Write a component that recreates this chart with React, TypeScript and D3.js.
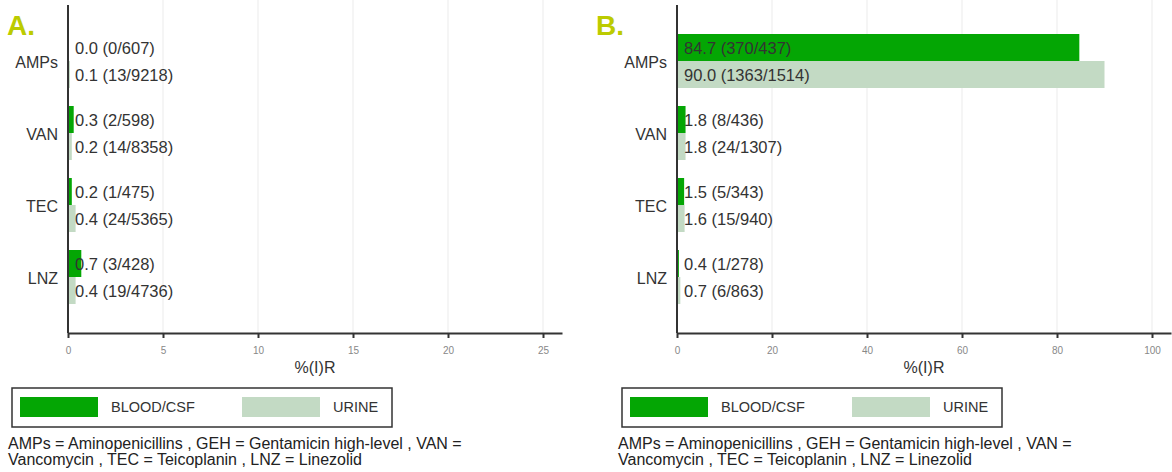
import React, { useEffect, useRef } from "react";
import * as d3 from "d3";

// antibiotic categories (same order in both panels)
const categories = ["AMPs", "VAN", "TEC", "LNZ"];

// Panel A
const bloodA = [0.0, 0.3, 0.2, 0.7];
const bloodNumA = [0, 2, 1, 3];
const bloodDenA = [607, 598, 475, 428];
const urineA = [0.1, 0.2, 0.4, 0.4];
const urineNumA = [13, 14, 24, 19];
const urineDenA = [9218, 8358, 5365, 4736];
const ticksA = [0, 5, 10, 15, 20, 25];

// Panel B
const bloodB = [84.7, 1.8, 1.5, 0.4];
const bloodNumB = [370, 8, 5, 1];
const bloodDenB = [437, 436, 343, 278];
const urineB = [90.0, 1.8, 1.6, 0.7];
const urineNumB = [1363, 24, 15, 6];
const urineDenB = [1514, 1307, 940, 863];
const ticksB = [0, 20, 40, 60, 80, 100];

const seriesNames = ["BLOOD/CSF", "URINE"];
const footnote = [
  "AMPs = Aminopenicillins , GEH = Gentamicin high-level , VAN =",
  "Vancomycin , TEC = Teicoplanin , LNZ = Linezolid",
];

const FONT = "'Liberation Sans', Arial, sans-serif";
const BLOOD = "#04a604";
const URINE = "#c3dac4";
const PANEL_LABEL = "#bccb00";

const drawPanel = (svg, opts) => {
  const { left, right, xMax, ticks, blood, urine, bNum, bDen, uNum, uDen, tag } = opts;
  const g = svg.append("g");
  const axisY = 333;

  const x = d3.scaleLinear().domain([0, xMax]).range([left, right]);
  const y = d3
    .scaleBand()
    .domain(categories)
    .range([25, 313])
    .paddingInner(0.25)
    .paddingOuter(0.125);
  const half = y.bandwidth() / 2;

  // gridlines
  g.selectAll(".grid")
    .data(ticks.filter((t) => t > 0))
    .enter()
    .append("line")
    .attr("x1", (d) => x(d))
    .attr("x2", (d) => x(d))
    .attr("y1", 0)
    .attr("y2", axisY)
    .attr("stroke", "#ebebeb")
    .attr("stroke-width", 1);

  const rows = categories.map((c, i) => ({
    cat: c,
    bars: [
      { v: blood[i], label: `${blood[i].toFixed(1)} (${bNum[i]}/${bDen[i]})`, color: BLOOD, off: 0 },
      { v: urine[i], label: `${urine[i].toFixed(1)} (${uNum[i]}/${uDen[i]})`, color: URINE, off: half },
    ],
  }));

  const bars = rows.flatMap((r) => r.bars.map((b) => ({ ...b, cat: r.cat })));

  g.selectAll(".bar")
    .data(bars)
    .enter()
    .append("rect")
    .attr("x", x(0))
    .attr("y", (d) => y(d.cat) + d.off)
    .attr("width", (d) => x(d.v) - x(0))
    .attr("height", half)
    .attr("fill", (d) => d.color);

  g.selectAll(".val")
    .data(bars)
    .enter()
    .append("text")
    .attr("x", x(0) + 7)
    .attr("y", (d) => y(d.cat) + d.off + half / 2)
    .attr("dominant-baseline", "central")
    .attr("font-size", 16.5)
    .attr("fill", "#333")
    .text((d) => d.label);

  // category labels
  g.selectAll(".cat")
    .data(categories)
    .enter()
    .append("text")
    .attr("x", x(0) - 10)
    .attr("y", (d) => y(d) + y.bandwidth() / 2 + 1)
    .attr("text-anchor", "end")
    .attr("dominant-baseline", "central")
    .attr("font-size", 16)
    .attr("fill", "#333")
    .text((d) => d);

  // axes
  g.append("line")
    .attr("x1", x(0))
    .attr("x2", x(0))
    .attr("y1", 5)
    .attr("y2", axisY)
    .attr("stroke", "#333")
    .attr("stroke-width", 2);

  const xAxis = g
    .append("g")
    .attr("transform", `translate(0,${axisY})`)
    .call(d3.axisBottom(x).tickValues(ticks).tickSize(5).tickSizeOuter(0).tickPadding(9));
  xAxis.select(".domain").attr("stroke", "#333").attr("stroke-width", 2);
  xAxis.selectAll(".tick line").attr("stroke", "#333").attr("stroke-width", 2);
  xAxis
    .selectAll(".tick text")
    .attr("font-family", FONT)
    .attr("font-size", 10)
    .attr("fill", "#888");

  g.append("text")
    .attr("x", (x(0) + right) / 2)
    .attr("y", 373)
    .attr("text-anchor", "middle")
    .attr("font-size", 16)
    .attr("fill", "#333")
    .text("%(I)R");

  // panel tag
  g.append("text")
    .attr("x", tag.x)
    .attr("y", 35)
    .attr("font-size", 28)
    .attr("font-weight", "bold")
    .attr("fill", PANEL_LABEL)
    .text(tag.text);

  // legend
  const lx = opts.legendX;
  const leg = g.append("g").attr("transform", `translate(${lx},388)`);
  leg.append("rect")
    .attr("x", 0)
    .attr("y", 0)
    .attr("width", 380)
    .attr("height", 39)
    .attr("fill", "none")
    .attr("stroke", "#333")
    .attr("stroke-width", 1.5);
  const items = leg
    .selectAll(".item")
    .data(seriesNames)
    .enter()
    .append("g")
    .attr("transform", (d, i) => `translate(${8 + i * 222},9)`);
  items.append("rect")
    .attr("width", 78)
    .attr("height", 20)
    .attr("fill", (d, i) => (i === 0 ? BLOOD : URINE));
  items.append("text")
    .attr("x", 91)
    .attr("y", 10)
    .attr("dominant-baseline", "central")
    .attr("font-size", 14.5)
    .attr("fill", "#333")
    .text((d) => d);

  // footnote
  g.selectAll(".foot")
    .data(footnote)
    .enter()
    .append("text")
    .attr("x", lx - 4)
    .attr("y", (d, i) => 449 + i * 16)
    .attr("font-size", 16)
    .attr("fill", "#222")
    .text((d) => d);
};

const App = () => {
  const chartRef = useRef(null);

  useEffect(() => {
    const root = d3.select(chartRef.current);
    root.selectAll("*").remove();
    const svg = root
      .append("svg")
      .attr("width", 1172)
      .attr("height", 472)
      .style("display", "block")
      .attr("font-family", FONT);

    svg.append("rect").attr("width", 1172).attr("height", 472).attr("fill", "#fff");

    drawPanel(svg, {
      left: 68,
      right: 562,
      xMax: 26,
      ticks: ticksA,
      blood: bloodA,
      urine: urineA,
      bNum: bloodNumA,
      bDen: bloodDenA,
      uNum: urineNumA,
      uDen: urineDenA,
      tag: { x: 7, text: "A." },
      legendX: 12,
    });

    drawPanel(svg, {
      left: 677,
      right: 1171,
      xMax: 104,
      ticks: ticksB,
      blood: bloodB,
      urine: urineB,
      bNum: bloodNumB,
      bDen: bloodDenB,
      uNum: urineNumB,
      uDen: urineDenB,
      tag: { x: 596, text: "B." },
      legendX: 622,
    });
  }, []);

  return (
    <div style={{ position: "absolute", left: 0, top: 0, width: 1172, height: 472 }}>
      <div ref={chartRef}></div>
    </div>
  );
};

export default App;
